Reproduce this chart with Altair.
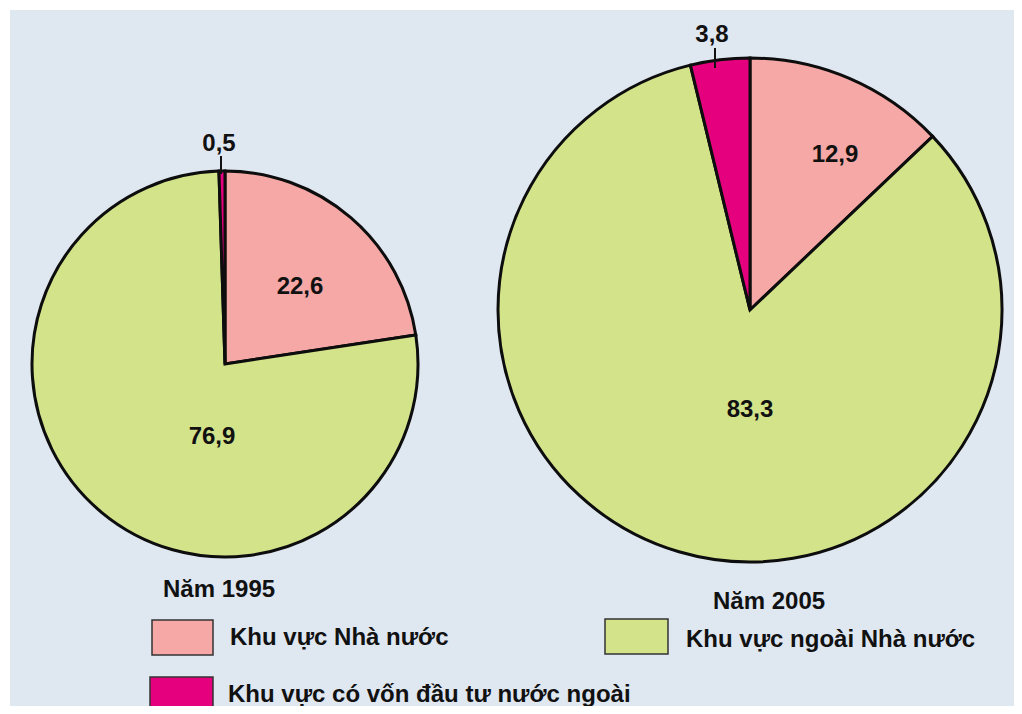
import altair as alt
import pandas as pd

sectors = ["Khu vực Nhà nước", "Khu vực ngoài Nhà nước", "Khu vực có vốn đầu tư nước ngoài"]
values_1995 = [22.6, 76.9, 0.5]
values_2005 = [12.9, 83.3, 3.8]
years = ["Năm 1995", "Năm 2005"]
colors = ["#f5a8a5", "#d3e38a", "#e5007e"]

BG = "#dfe7f1"
FONT = "Liberation Sans"
FS = 24

color_scale = alt.Scale(domain=sectors, range=colors)


def pie_df(vals):
    return pd.DataFrame({
        "sector": sectors,
        "value": vals,
        "order": [0, 1, 2],
        "label": [f"{v:.1f}".replace(".", ",") for v in vals],
    })


def pie(vals, cx, cy, r):
    return alt.Chart(pie_df(vals)).mark_arc(
        stroke="#0d0d0d", strokeWidth=3, outerRadius=r
    ).encode(
        theta=alt.Theta("value:Q", stack=True),
        color=alt.Color("sector:N", scale=color_scale, legend=None),
        order=alt.Order("order:Q"),
        x=alt.value(cx), y=alt.value(cy),
    )


def label(vals, idx, x, y):
    return alt.Chart(pie_df(vals)).transform_filter(alt.datum.order == idx).mark_text(
        font=FONT, fontSize=FS, fontWeight="bold", color="#111111",
        align="center", baseline="middle",
    ).encode(text="label:N", x=alt.value(x), y=alt.value(y))


def tick(x, y1, y2):
    return alt.Chart(pd.DataFrame({"a": [0]})).mark_rule(color="#111111", strokeWidth=2).encode(
        x=alt.value(x), y=alt.value(y1), y2=alt.value(y2))


def text_at(txt, x, y):
    return alt.Chart(pd.DataFrame({"t": [txt]})).mark_text(
        font=FONT, fontSize=FS, fontWeight="bold", color="#111111",
        align="left", baseline="middle",
    ).encode(text="t:N", x=alt.value(x), y=alt.value(y))


def legend_item(i, x1, x2, y1, y2, tx, ty):
    df = pd.DataFrame({"sector": [sectors[i]]})
    box = alt.Chart(df).mark_rect(stroke="#333333", strokeWidth=1.5).encode(
        color=alt.Color("sector:N", scale=color_scale, legend=None),
        x=alt.value(x1), x2=alt.value(x2), y=alt.value(y1), y2=alt.value(y2))
    txt = alt.Chart(df).mark_text(
        font=FONT, fontSize=FS, fontWeight="bold", color="#111111",
        align="left", baseline="middle",
    ).encode(text="sector:N", x=alt.value(tx), y=alt.value(ty))
    return [box, txt]


bg = alt.Chart(pd.DataFrame({"a": [0]})).mark_rect(color=BG).encode(
    x=alt.value(2), x2=alt.value(1006), y=alt.value(2), y2=alt.value(698))

layers = [
    bg,
    pie(values_1995, 217, 356, 193),
    pie(values_2005, 742, 302, 252),
    label(values_1995, 0, 292, 279),
    label(values_1995, 1, 204, 429),
    label(values_1995, 2, 211, 136),
    tick(213, 148, 166),
    label(values_2005, 0, 827, 147),
    label(values_2005, 1, 742, 402),
    label(values_2005, 2, 704, 27),
    tick(707, 40, 60),
    text_at(years[0], 155, 582),
    text_at(years[1], 705, 594),
]
layers += legend_item(0, 144, 205, 612, 647, 222, 630)
layers += legend_item(1, 597, 660, 611, 646, 678, 632)
layers += legend_item(2, 142, 205, 669, 705, 220, 687)

chart = alt.layer(*layers).resolve_scale(theta="independent").properties(
    width=1006, height=698, padding=0, background="white",
    autosize=alt.AutoSizeParams(type="fit", contains="padding"),
).configure_view(stroke=None)

chart.save("out.html", embed_options={"renderer": "svg", "actions": False})
